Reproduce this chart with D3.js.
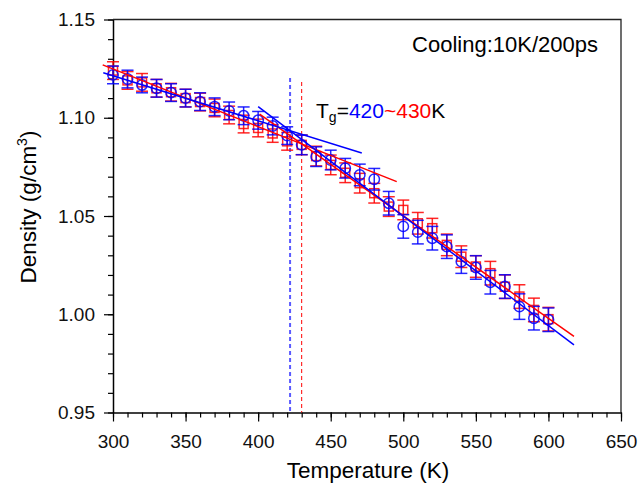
<!DOCTYPE html>
<html>
<head>
<meta charset="utf-8">
<script src="https://cdn.jsdelivr.net/npm/d3@7"></script>
<style>
  body { margin: 0; background: #fff; }
  svg { display: block; font-family: "Liberation Sans", Arial, sans-serif; }
</style>
</head>
<body>
<div id="chart"></div>
<script>
// temperatures (K)
const temps = [300, 310, 320, 330, 340, 350, 360, 370, 380, 390, 400, 410, 420, 430, 440,
  450, 460, 470, 480, 490, 500, 510, 520, 530, 540, 550, 560, 570, 580, 590, 600];

// blue series (circles)
const blueDensity = [1.1218, 1.1197, 1.1167, 1.1150, 1.1128, 1.1100, 1.1082, 1.1056, 1.1035, 1.1010,
  1.0987, 1.0958, 1.0909, 1.0862, 1.0802, 1.0785, 1.0743, 1.0709, 1.0687, 1.0565,
  1.0447, 1.0418, 1.0387, 1.0344, 1.0268, 1.0238, 1.0163, 1.0141, 1.0039, 0.9980, 0.9972];
const blueErr = [0.0045, 0.0045, 0.0040, 0.0045, 0.0045, 0.0045, 0.0045, 0.0045, 0.0045, 0.0045,
  0.0045, 0.0045, 0.0045, 0.0050, 0.0050, 0.0050, 0.0050, 0.0055, 0.0055, 0.0060,
  0.0060, 0.0060, 0.0060, 0.0060, 0.0060, 0.0060, 0.0060, 0.0060, 0.0065, 0.0060, 0.0060];

// red series (squares)
const redDensity = [1.1240, 1.1190, 1.1180, 1.1150, 1.1130, 1.1100, 1.1080, 1.1050, 1.1014, 1.0968,
  1.0948, 1.0920, 1.0880, 1.0862, 1.0805, 1.0760, 1.0720, 1.0667, 1.0616, 1.0548,
  1.0531, 1.0463, 1.0438, 1.0353, 1.0293, 1.0243, 1.0209, 1.0140, 1.0090, 1.0022, 0.9975];
const redErr = [0.0045, 0.0045, 0.0045, 0.0045, 0.0045, 0.0045, 0.0045, 0.0045, 0.0045, 0.0045,
  0.0045, 0.0045, 0.0045, 0.0050, 0.0050, 0.0050, 0.0050, 0.0050, 0.0050, 0.0050,
  0.0050, 0.0055, 0.0050, 0.0055, 0.0055, 0.0055, 0.0060, 0.0060, 0.0060, 0.0060, 0.0060];

// linear fits: [T start, d start], [T end, d end]
const blueFits = [
  [[293.3, 1.1229], [471.4, 1.0821]],
  [[400.0, 1.1057], [617.6, 0.9844]]
];
const redFits = [
  [[292.9, 1.1269], [495.5, 1.0675]],
  [[401.0, 1.1018], [617.6, 0.9887]]
];

// glass transition markers
const tgBlue = 422;
const tgRed = 430;

const xTicksMajor = [300, 350, 400, 450, 500, 550, 600, 650];
const yTicksMajor = [0.95, 1.00, 1.05, 1.10, 1.15];

const width = 640, height = 491;
const plotLeft = 113, plotRight = 621, plotTop = 19.5, plotBottom = 412.5;

const svg = d3.select("#chart").append("svg")
  .attr("width", width)
  .attr("height", height);

const x = d3.scaleLinear().domain([300, 650]).range([plotLeft, plotRight]);
const y = d3.scaleLinear().domain([0.95, 1.15]).range([plotBottom, plotTop]);

const blue = "#0000ff", red = "#ff0000";

// frame (top + right)
svg.append("path")
  .attr("d", `M${plotLeft},${plotTop}H${plotRight}V${plotBottom}`)
  .attr("fill", "none")
  .attr("stroke", "#222")
  .attr("stroke-width", 1.3);

// x axis: minor + major ticks
const xMinor = d3.range(300, 651, 10);
svg.append("g")
  .attr("transform", `translate(0,${plotBottom})`)
  .call(d3.axisBottom(x).tickValues(xMinor).tickSize(5).tickFormat(""))
  .call(g => g.select(".domain").remove());
const xAxis = svg.append("g")
  .attr("transform", `translate(0,${plotBottom})`)
  .call(d3.axisBottom(x).tickValues(xTicksMajor).tickSize(9).tickSizeOuter(0).tickPadding(13).tickFormat(d3.format("d")));
xAxis.selectAll("text").style("font-size", "19px").attr("fill", "#111");

// y axis
const yMinor = d3.range(0, 21).map(i => 0.95 + i * 0.01);
svg.append("g")
  .attr("transform", `translate(${plotLeft},0)`)
  .call(d3.axisLeft(y).tickValues(yMinor).tickSize(5).tickFormat(""))
  .call(g => g.select(".domain").remove());
const yAxis = svg.append("g")
  .attr("transform", `translate(${plotLeft},0)`)
  .call(d3.axisLeft(y).tickValues(yTicksMajor).tickSize(9).tickSizeOuter(0).tickPadding(9).tickFormat(d3.format(".2f")));
yAxis.selectAll("text").style("font-size", "19px").attr("fill", "#111");

svg.selectAll(".domain").attr("stroke-width", 1.5);
svg.selectAll(".tick line").attr("stroke-width", 1.2);

// axis titles
svg.append("text")
  .attr("x", 368)
  .attr("y", 478)
  .attr("text-anchor", "middle")
  .style("font-size", "22.5px")
  .text("Temperature (K)");

const yTitle = svg.append("text")
  .attr("transform", "translate(36,207) rotate(-90)")
  .attr("text-anchor", "middle")
  .style("font-size", "22.5px");
yTitle.append("tspan").text("Density (g/cm");
yTitle.append("tspan").attr("dy", -9).style("font-size", "14px").text("3");
yTitle.append("tspan").attr("dy", 9).text(")");

// Tg dashed lines
svg.append("line")
  .attr("x1", x(tgBlue)).attr("x2", x(tgBlue))
  .attr("y1", 78).attr("y2", plotBottom)
  .attr("stroke", "#5a5aff").attr("stroke-width", 2)
  .attr("stroke-dasharray", "4,3");
svg.append("line")
  .attr("x1", x(tgRed)).attr("x2", x(tgRed))
  .attr("y1", 82).attr("y2", plotBottom)
  .attr("stroke", red).attr("stroke-width", 1)
  .attr("stroke-dasharray", "4,3");

// error bars + markers
function drawSeries(values, errs, color, shape) {
  const g = svg.append("g").attr("stroke", color).attr("fill", "none").attr("stroke-opacity", 0.85);
  temps.forEach((t, i) => {
    const cx = x(t), v = values[i], e = errs[i];
    const y0 = y(v - e), y1 = y(v + e);
    g.append("line").attr("x1", cx).attr("x2", cx).attr("y1", y0).attr("y2", y1).attr("stroke-width", 1.5);
    g.append("line").attr("x1", cx - 6).attr("x2", cx + 6).attr("y1", y0).attr("y2", y0).attr("stroke-width", 1.5);
    g.append("line").attr("x1", cx - 6).attr("x2", cx + 6).attr("y1", y1).attr("y2", y1).attr("stroke-width", 1.5);
    if (shape === "circle") {
      g.append("circle").attr("cx", cx).attr("cy", y(v)).attr("r", 5.2).attr("stroke-width", 1.5);
    } else {
      g.append("rect").attr("x", cx - 4.5).attr("y", y(v) - 4.5).attr("width", 9).attr("height", 9).attr("stroke-width", 1.5);
    }
  });
}
drawSeries(redDensity, redErr, red, "square");
drawSeries(blueDensity, blueErr, blue, "circle");

// fit lines
const lineGen = d3.line().x(d => x(d[0])).y(d => y(d[1]));
redFits.forEach(f => svg.append("path").attr("d", lineGen(f)).attr("stroke", red).attr("stroke-width", 1.5).attr("fill", "none"));
blueFits.forEach(f => svg.append("path").attr("d", lineGen(f)).attr("stroke", blue).attr("stroke-width", 1.5).attr("fill", "none"));

// annotations
svg.append("text")
  .attr("x", 598)
  .attr("y", 52)
  .attr("text-anchor", "end")
  .style("font-size", "22px")
  .text("Cooling:10K/200ps");

const tg = svg.append("text")
  .attr("x", 316)
  .attr("y", 118)
  .style("font-size", "21px");
tg.append("tspan").text("T");
tg.append("tspan").attr("dy", 4).style("font-size", "14px").text("g");
tg.append("tspan").attr("dy", -4).text("=");
tg.append("tspan").attr("fill", blue).text("420");
tg.append("tspan").attr("fill", red).text("~430");
tg.append("tspan").text("K");
</script>
</body>
</html>
